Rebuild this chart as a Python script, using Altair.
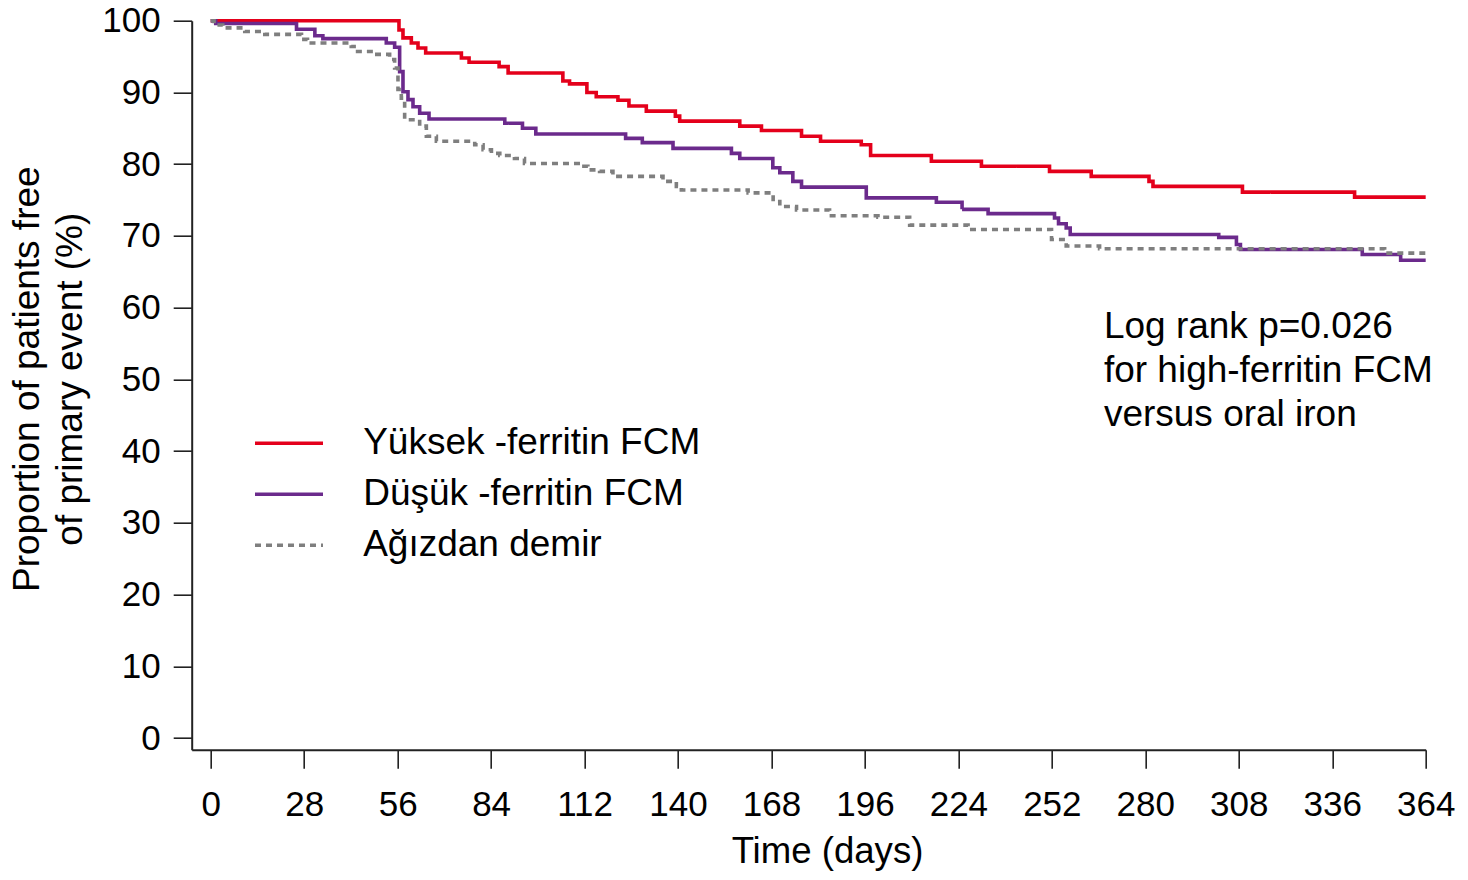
import altair as alt
import pandas as pd

groups = ["Yüksek -ferritin FCM", "Düşük -ferritin FCM", "Ağızdan demir"]
colors = ["#e4001b", "#6b2a8c", "#7f7f7f"]
dashes = [[1, 0], [1, 0], [6, 5]]

high_t = [0, 56.4, 57.6, 60.1, 62.1, 64.4, 75.1, 77.4, 86.4, 89.1, 105.5, 107.5, 112.7, 115.5,
          122, 125.3, 130.5, 139.2, 140.5, 158.5, 165, 177, 182.7, 194.9, 197.7, 215.9, 230.9,
          251.3, 263.8, 281.1, 282.3, 309.1, 342.7, 364]
high_s = [100, 98.7, 97.6, 96.9, 96.2, 95.5, 94.8, 94.2, 93.6, 92.7, 91.6, 91.2, 90.0, 89.4,
          88.9, 88.1, 87.4, 86.7, 86.0, 85.3, 84.7, 83.9, 83.2, 82.7, 81.2, 80.4, 79.7,
          79.0, 78.3, 77.6, 76.9, 76.1, 75.4, 75.4]

low_t = [0, 1.5, 25.7, 31.2, 33.6, 52.6, 55.1, 56.6, 57.6, 59.1, 60.6, 62.6, 65.4, 88.1, 93.4,
         97.4, 124.3, 129.3, 138.5, 156, 158.5, 168.4, 170.5, 174.4, 177, 196.4, 217.4, 225.1,
         232.9, 252.8, 254, 256.3, 257.5, 302, 307.3, 308.5, 345, 356.5, 364]
low_s = [100, 99.6, 98.8, 97.9, 97.5, 96.9, 96.3, 92.9, 90.1, 89.0, 88.0, 87.1, 86.3, 85.7, 85.0,
         84.2, 83.6, 83.0, 82.2, 81.5, 80.8, 79.5, 78.8, 77.6, 76.8, 75.3, 74.7, 73.7,
         73.1, 72.5, 71.7, 71.1, 70.2, 69.8, 68.8, 68.1, 67.4, 66.6, 66.6]

oral_t = [0, 1.0, 3.6, 10.2, 16.2, 27.2, 29, 42.1, 44, 49.1, 53.6, 55.1, 56.1, 57.1, 58.1, 62.6,
          64.6, 67.6, 79.1, 81.6, 84.1, 86.6, 91, 94, 111, 113, 116.5, 120.5, 135.5, 139.5,
          141, 161, 168.5, 170.5, 175.5, 185.4, 199.9, 209.4, 226.9, 251.9, 256.3, 266.3,
          351.7, 364]
oral_s = [100, 99.4, 99.0, 98.5, 98.1, 97.4, 96.9, 96.4, 95.7, 95.3, 94.6, 93.4, 90.4, 89.2, 86.2, 85.3,
          83.9, 83.2, 82.7, 82.0, 81.5, 81.2, 80.8, 80.1, 79.7, 79.2, 79.0, 78.3, 77.6, 76.9,
          76.4, 76.0, 74.8, 74.1, 73.6, 72.8, 72.6, 71.5, 70.9, 69.5, 68.6, 68.2,
          67.6, 67.6]

x_ticks = list(range(0, 365, 28))
y_ticks = list(range(0, 101, 10))

note_lines = ["Log rank p=0.026", "for high-ferritin FCM", "versus oral iron"]
note_day = 267.6
note_pct = 55.7

rows = []
for g, ts, ss in zip(groups, [high_t, low_t, oral_t], [high_s, low_s, oral_s]):
    for t, s in zip(ts, ss):
        rows.append({"group": g, "day": t, "pct": s})
df = pd.DataFrame(rows)

FONT = "Liberation Sans"

xscale = alt.Scale(domain=[-5.7, 364], nice=False, zero=False)
yscale = alt.Scale(domain=[-1.63, 100], nice=False, zero=False)

legend = alt.Legend(
    title=None, orient="none", legendX=78.8, legendY=404,
    symbolType="M-4,0H4", symbolSize=289, symbolStrokeWidth=3.4,
    labelFontSize=37, labelFont=FONT, labelColor="black", labelOffset=55.7,
    labelLimit=0, rowPadding=13, padding=0,
)

lines = alt.Chart(df).mark_line(interpolate="step-after", strokeWidth=3.6).encode(
    x=alt.X("day:Q", scale=xscale,
            axis=alt.Axis(values=x_ticks, title="Time (days)", titleX=635.3, titleY=113,
                          titleBaseline="alphabetic", titleFontSize=36.6, labelPadding=19)),
    y=alt.Y("pct:Q", scale=yscale,
            axis=alt.Axis(values=y_ticks, title=["Proportion of patients free", "of primary event (%)"],
                          titleX=-153, titleY=358, titleAngle=270, titleAlign="center",
                          titleBaseline="alphabetic", titleLineHeight=43, titleFontSize=37,
                          labelPadding=13)),
    color=alt.Color("group:N", scale=alt.Scale(domain=groups, range=colors), legend=legend),
    strokeDash=alt.StrokeDash("group:N", scale=alt.Scale(domain=groups, range=dashes), legend=legend),
)

note = alt.Chart(pd.DataFrame({"day": [note_day], "pct": [note_pct], "txt": ["\n".join(note_lines)]})).mark_text(
    align="left", baseline="alphabetic", fontSize=37, font=FONT, color="black",
    lineBreak="\n", lineHeight=44,
).encode(x=alt.X("day:Q", scale=xscale), y=alt.Y("pct:Q", scale=yscale), text="txt:N")

chart = (lines + note).properties(
    width=1234, height=729, autosize="none",
    padding={"left": 183.7, "top": 12.7, "right": 34, "bottom": 122.3},
).configure_view(stroke=None).configure_axis(
    grid=False, domainColor="#222", domainWidth=2, tickColor="#222", tickWidth=1.6, tickSize=18.5,
    labelFontSize=35, labelFont=FONT, labelColor="black", titleFont=FONT, titleColor="black",
    titleFontWeight="normal", labelFlush=False, labelOverlap=False, labelBound=False,
)

chart.save("out.html", embed_options={"renderer": "svg", "actions": False})
